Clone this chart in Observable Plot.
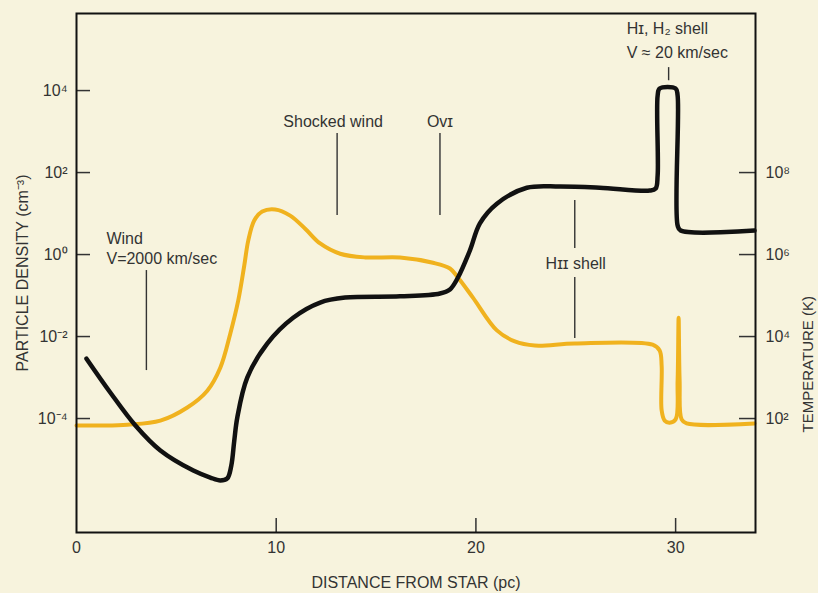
<!DOCTYPE html>
<html><head><meta charset="utf-8">
<script src="https://cdn.jsdelivr.net/npm/d3@7"></script>
<script src="https://cdn.jsdelivr.net/npm/@observablehq/plot@0.6"></script>
<style>html,body{margin:0;padding:0;background:#f7f3dd;}</style>
</head><body><div id="chart"></div>
<script>
// Distance from star (pc) and log10 particle density (cm^-3)
const densityX   = [0.5, 1.7, 2.95, 4.2, 5.85, 6.7, 7.2, 7.55, 7.75, 7.9, 8.05, 8.55, 9.55, 10.85, 12.2, 13.45, 16.2, 18.2, 18.7, 19.1, 19.7, 20.2, 21.05, 22.55, 24.2, 26.2, 28.7, 29.0, 29.1, 29.1, 29.2, 30.0, 30.1, 30.1, 30.25, 33.95];
const densityLog = [-2.54, -3.37, -4.17, -4.78, -5.27, -5.44, -5.51, -5.46, -5.15, -4.54, -3.98, -3.0, -2.17, -1.54, -1.17, -1.05, -1.02, -0.95, -0.85, -0.56, 0.10, 0.76, 1.24, 1.63, 1.66, 1.63, 1.56, 1.61, 1.93, 3.88, 4.05, 4.05, 3.88, 0.71, 0.585, 0.585];

// Distance (pc) and log10 temperature (K)
const temperatureX   = [0, 1.2, 2.55, 4.2, 5.55, 6.55, 7.2, 7.7, 8.1, 8.4, 8.6, 8.9, 9.3, 9.95, 10.7, 11.45, 12.2, 13.2, 14.45, 16.2, 17.85, 18.7, 19.1, 19.85, 21.05, 21.95, 22.95, 24.95, 28.85, 29.2, 29.3, 29.3, 29.45, 29.7, 30.0, 30.1, 30.15, 30.2, 30.3, 30.55, 33.95];
const temperatureLog = [1.83, 1.83, 1.85, 1.95, 2.27, 2.68, 3.24, 4.07, 4.88, 5.73, 6.34, 6.83, 7.05, 7.10, 6.95, 6.63, 6.27, 6.02, 5.93, 5.93, 5.80, 5.66, 5.44, 4.95, 4.15, 3.88, 3.78, 3.83, 3.80, 3.66, 3.29, 2.20, 1.95, 1.90, 1.98, 2.93, 4.46, 2.93, 1.98, 1.88, 1.88];

const xTicks = [0, 10, 20, 30];
const densityTickExp = [4, 2, 0, -2, -4];
const temperatureTickExp = [8, 6, 4, 2];
const TEMP_OFFSET = 6; // right axis: 10^(n+6) K aligned with 10^n cm^-3

// Annotations (x in pc, y as log10 density)
const labelText   = ["Wind", "V=2000 km/sec", "Shocked wind", "Ovɪ", "Hɪɪ shell", "Hɪ, H₂ shell", "V ≈ 20 km/sec"];
const labelX      = [1.5, 1.5, 12.85, 18.2, 25.0, 27.55, 27.55];
const labelLog    = [0.39, -0.10, 3.24, 3.24, -0.22, 5.51, 4.93];
const labelAnchor = ["start", "start", "middle", "middle", "middle", "start", "start"];

const leaderX      = [3.5, 13.05, 18.2, 24.95, 24.95, 29.65];
const leaderTopLog = [-0.39, 2.95, 2.95, 1.32, -0.56, 4.56];
const leaderBotLog = [-2.83, 0.95, 0.95, 0.15, -2.05, 4.24];

const sup = s => String(s).replace(/-/g, "⁻").replace(/\d/g, d => "⁰¹²³⁴⁵⁶⁷⁸⁹"[d]);

const density = densityX.map((x, i) => ({x, v: 10 ** densityLog[i]}));
const temperature = temperatureX.map((x, i) => ({x, v: 10 ** (temperatureLog[i] - TEMP_OFFSET)}));
const labels = labelText.map((t, i) => ({t, x: labelX[i], y: 10 ** labelLog[i], a: labelAnchor[i]}));
const leaders = leaderX.map((x, i) => ({x, y1: 10 ** leaderTopLog[i], y2: 10 ** leaderBotLog[i]}));

const W = 818, H = 593, mL = 76, mR = 63, mT = 13, mB = 61;
const plotW = W - mL - mR, plotH = H - mT - mB;
const font = "'Liberation Sans', Helvetica, Arial, sans-serif";
const ink = "#333";

const chart = Plot.plot({
  width: W, height: H,
  marginLeft: mL, marginRight: mR, marginTop: mT, marginBottom: mB,
  style: {background: "#f7f3dd", fontFamily: font, fontSize: "16px", color: ink},
  x: {domain: [0, 34]},
  y: {type: "log", domain: [10 ** -6.78, 10 ** 5.88]},
  marks: [
    // inward ticks
    Plot.ruleX(xTicks.filter(d => d > 0), {stroke: ink, strokeWidth: 1.5, insetTop: plotH - 14}),
    Plot.ruleY(densityTickExp.map(e => 10 ** e), {stroke: ink, strokeWidth: 1.5, insetRight: plotW - 14}),
    Plot.ruleY(temperatureTickExp.map(e => 10 ** (e - TEMP_OFFSET)), {stroke: ink, strokeWidth: 1.5, insetLeft: plotW - 16}),
    // tick labels
    Plot.axisX({ticks: xTicks, tickSize: 0, tickPadding: 9, tickFormat: d => String(d), fontSize: 16, fill: ink,
      label: "DISTANCE FROM STAR (pc)", labelAnchor: "center", labelOffset: 55, labelArrow: "none"}),
    Plot.axisY({anchor: "left", ticks: densityTickExp.map(e => 10 ** e), tickSize: 0, tickPadding: 9,
      tickFormat: d => "10" + sup(Math.round(Math.log10(d))), fontSize: 16, fill: ink,
      label: "PARTICLE DENSITY (cm⁻³)", labelAnchor: "center", labelOffset: 60, labelArrow: "none"}),
    Plot.axisY({anchor: "right", ticks: temperatureTickExp.map(e => 10 ** (e - TEMP_OFFSET)), tickSize: 0, tickPadding: 10,
      tickFormat: d => "10" + sup(Math.round(Math.log10(d)) + TEMP_OFFSET), fontSize: 16, fill: ink, label: null}),
    Plot.text(["TEMPERATURE (K)"], {frameAnchor: "right", dx: 53, dy: 23, rotate: -90, fontSize: 15, fill: ink}),
    // leaders
    Plot.ruleX(leaders, {x: "x", y1: "y1", y2: "y2", stroke: ink, strokeWidth: 1.4}),
    Plot.text(labels.filter(d => d.a === "start"), {x: "x", y: "y", text: "t", textAnchor: "start", fill: ink, fontSize: 16}),
    Plot.text(labels.filter(d => d.a === "middle"), {x: "x", y: "y", text: "t", textAnchor: "middle", fill: ink, fontSize: 16}),
    // curves
    Plot.line(temperature, {x: "x", y: "v", curve: "catmull-rom", stroke: "#f0b21e", strokeWidth: 4, strokeLinejoin: "round"}),
    Plot.line(density, {x: "x", y: "v", curve: "catmull-rom", stroke: "#111", strokeWidth: 4.5, strokeLinejoin: "round"}),
    Plot.frame({stroke: "#111", strokeWidth: 2})
  ]
});
document.getElementById("chart").appendChild(chart);
</script>
</body></html>
